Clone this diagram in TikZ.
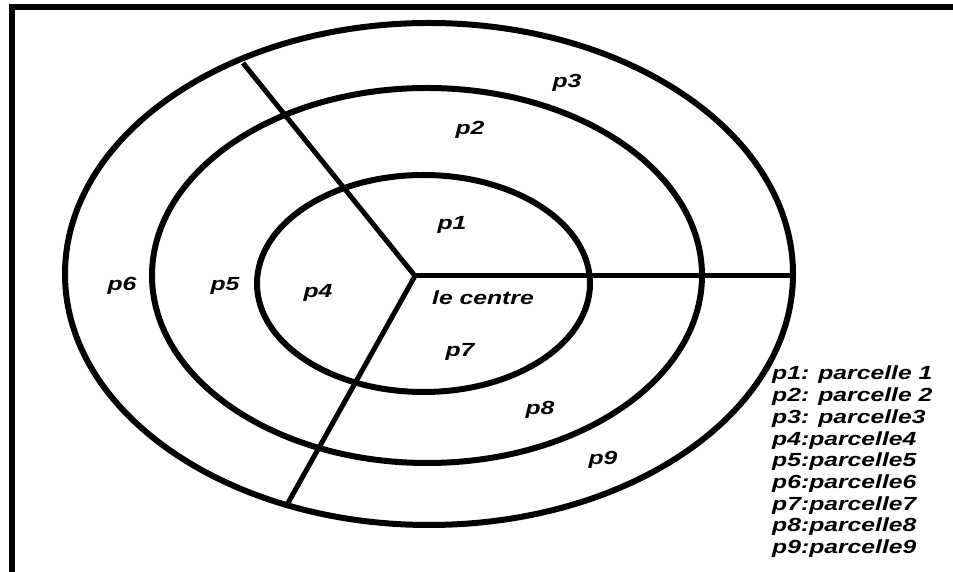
\documentclass[tikz,border=0pt]{standalone}
\usepackage{fontspec}
\newfontfamily\parcfont{Liberation Sans}[FakeStretch=1.3]
\tikzset{
    ring/.style={
        draw=black,
        line width=6pt
    },
    cut/.style={
        draw=black,
        line width=5pt
    },
    parc/.style={
        font={\fontsize{19}{21.7}\parcfont\bfseries\itshape},
        inner sep=0pt
    }
}

\begin{document}
\begin{tikzpicture}[x=1pt, y=1pt]

\useasboundingbox (0,0) rectangle (953,572);

% frame
\draw[line width=6pt] (12,0) -- (12,565) -- (953,565);

% the three rings
\draw[ring] (429,298) ellipse [x radius=364pt, y radius=251pt];
\draw[ring] (427,296.5) ellipse [x radius=275pt, y radius=187.5pt];
\draw[ring] (423.5,288.5) ellipse [x radius=166.5pt, y radius=108.5pt];

% the cuts
\coordinate (centre) at (415,296);
\coordinate (east) at (793,296);
\coordinate (northwest) at (243,509);
\coordinate (southwest) at (288,69);

\draw[cut] (northwest) -- (centre) -- (southwest);
\draw[cut] (centre) -- (east);

% parcels
\node (p1) [parc] at (452,347) {p1};
\node (p2) [parc] at (470,442) {p2};
\node (p3) [parc] at (567,489) {p3};
\node (p4) [parc] at (318,279) {p4};
\node (p5) [parc] at (225,286) {p5};
\node (p6) [parc] at (122,286) {p6};
\node (p7) [parc] at (460,220) {p7};
\node (p8) [parc] at (540,162) {p8};
\node (p9) [parc] at (603,112) {p9};
\node (lecentre) [parc] at (483,274) {le centre};

% legend
\node (legend) [parc, align=left, anchor=north west] at (772,206) {p1: parcelle 1\\p2: parcelle 2\\p3: parcelle3\\p4:parcelle4\\p5:parcelle5\\p6:parcelle6\\p7:parcelle7\\p8:parcelle8\\p9:parcelle9};

\end{tikzpicture}
\end{document}
